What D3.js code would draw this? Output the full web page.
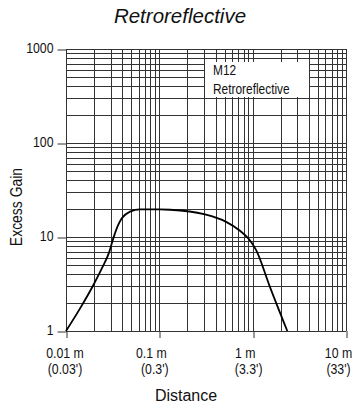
<!DOCTYPE html>
<html>
<head>
<meta charset="utf-8">
<script src="https://cdn.jsdelivr.net/npm/d3@7"></script>
<style>
  body { margin: 0; background: #fff; }
  text { font-family: "Liberation Sans", Arial, sans-serif; fill: #111; }
</style>
</head>
<body>
<div id="chart"></div>
<script>
const distance = [0.01, 0.0141, 0.0196, 0.0242, 0.0291, 0.0321, 0.0355, 0.0396, 0.0485, 0.062, 0.1, 0.13, 0.3, 0.52, 0.72, 0.92, 1.09, 1.53, 2.35];
const gain = [1, 1.73, 3.07, 4.63, 6.95, 9.67, 12.8, 15.8, 18.6, 19.7, 19.7, 19.5, 17.5, 14.5, 11.8, 9.4, 7.25, 2.95, 1];

const xTicks = [0.01, 0.1, 1, 10];
const xTickMetric = ["0.01 m", "0.1 m", "1 m", "10 m"];
const xTickFeet = ["(0.03')", "(0.3')", "(3.3')", "(33')"];
const yTicks = [1, 10, 100, 1000];
const yTickLabels = ["1", "10", "100", "1000"];

const title = "Retroreflective";
const legendLines = ["M12", "Retroreflective"];

const WIDTH = 359, HEIGHT = 410;
const plotLeft = 66, plotRight = 346, plotTop = 49, plotBottom = 331;
const NARROW = 0.82;
// the original sets its distance labels a little left of each tick
const metricShift = [-1.5, -8.5, -8, -8];
const feetShift = [-1.5, -5, -4.5, -8];

const svg = d3.select("#chart").append("svg")
    .attr("width", WIDTH)
    .attr("height", HEIGHT);

const x = d3.scaleLog().domain([0.01, 10]).range([plotLeft, plotRight]);
const y = d3.scaleLog().domain([1, 1000]).range([plotBottom, plotTop]);
const px = v => Math.round(v) + 0.5;

// squeeze glyphs horizontally to mimic the narrow face of the original
function condense(sel) {
    sel.each(function () {
        const w = this.getComputedTextLength();
        d3.select(this)
            .attr("textLength", w * NARROW)
            .attr("lengthAdjust", "spacingAndGlyphs");
    });
}

// minor + major grid values
const gridX = [];
const gridY = [];
for (let d = 0.01; d < 10; d *= 10) for (let k = 1; k < 10; k++) gridX.push(d * k);
gridX.push(10);
for (let d = 1; d < 1000; d *= 10) for (let k = 1; k < 10; k++) gridY.push(d * k);
gridY.push(1000);

const grid = svg.append("g").attr("stroke", "#333").attr("stroke-width", 1);
grid.selectAll("line.v")
    .data(gridX)
    .enter()
    .append("line")
    .attr("class", "v")
    .attr("x1", d => px(x(d)))
    .attr("x2", d => px(x(d)))
    .attr("y1", plotTop)
    .attr("y2", plotBottom);
grid.selectAll("line.h")
    .data(gridY)
    .enter()
    .append("line")
    .attr("class", "h")
    .attr("y1", d => px(y(d)))
    .attr("y2", d => px(y(d)))
    .attr("x1", plotLeft)
    .attr("x2", plotRight);

// axes with outward ticks on the major values
svg.append("g")
    .attr("transform", `translate(${plotLeft + 0.5},0)`)
    .call(d3.axisLeft(y).tickValues(yTicks).tickSize(9).tickPadding(4)
        .tickFormat((d, i) => yTickLabels[i]))
    .call(g => g.select(".domain").remove())
    .call(g => g.selectAll("line").attr("stroke", "#333").attr("transform", d => `translate(0,${px(y(d)) - y(d)})`))
    .call(g => g.selectAll("text")
        .style("font-size", "15px")
        .style("font-family", "Liberation Sans, Arial, sans-serif")
        .attr("fill", "#111")
        .attr("dy", "0.2em")
        .call(condense));

const xAxis = svg.append("g")
    .attr("transform", `translate(0,${plotBottom})`)
    .call(d3.axisBottom(x).tickValues(xTicks).tickSize(7).tickFormat(""))
    .call(g => g.select(".domain").remove())
    .call(g => g.selectAll("line").attr("stroke", "#333").attr("transform", d => `translate(${px(x(d)) - x(d)},0)`));

xAxis.selectAll(".tick").append("text")
    .attr("x", (d, i) => metricShift[i])
    .attr("y", 27)
    .attr("text-anchor", "middle")
    .style("font-size", "15px")
    .text((d, i) => xTickMetric[i])
    .call(condense);
xAxis.selectAll(".tick").append("text")
    .attr("x", (d, i) => feetShift[i])
    .attr("y", 43)
    .attr("text-anchor", "middle")
    .style("font-size", "15px")
    .text((d, i) => xTickFeet[i])
    .call(condense);

// legend box: white panel between the 0.3 and 4 grid lines
const boxL = Math.round(x(0.3)) + 1;
const boxR = Math.round(x(4));
svg.append("rect")
    .attr("x", boxL)
    .attr("y", 62)
    .attr("width", boxR - boxL)
    .attr("height", 35)
    .attr("fill", "#fff");
svg.append("g").selectAll("text")
    .data(legendLines)
    .enter()
    .append("text")
    .attr("x", 213)
    .attr("y", (d, i) => 75 + i * 18.5)
    .style("font-size", "14.5px")
    .text(d => d)
    .call(condense);

// curve
const line = d3.line()
    .x(d => x(d[0]))
    .y(d => y(d[1]))
    .curve(d3.curveMonotoneX);
svg.append("path")
    .datum(distance.map((d, i) => [d, gain[i]]))
    .attr("d", line)
    .attr("fill", "none")
    .attr("stroke", "#000")
    .attr("stroke-width", 1.8);

// titles
svg.append("text")
    .attr("x", 180)
    .attr("y", 23)
    .attr("text-anchor", "middle")
    .style("font-size", "20.5px")
    .style("font-style", "italic")
    .text(title);

svg.append("text")
    .attr("x", 186)
    .attr("y", 401)
    .attr("text-anchor", "middle")
    .style("font-size", "16px")
    .text("Distance");

svg.append("text")
    .attr("transform", "translate(22,207) rotate(-90)")
    .attr("text-anchor", "middle")
    .style("font-size", "17px")
    .text("Excess Gain")
    .call(condense);
</script>
</body>
</html>
